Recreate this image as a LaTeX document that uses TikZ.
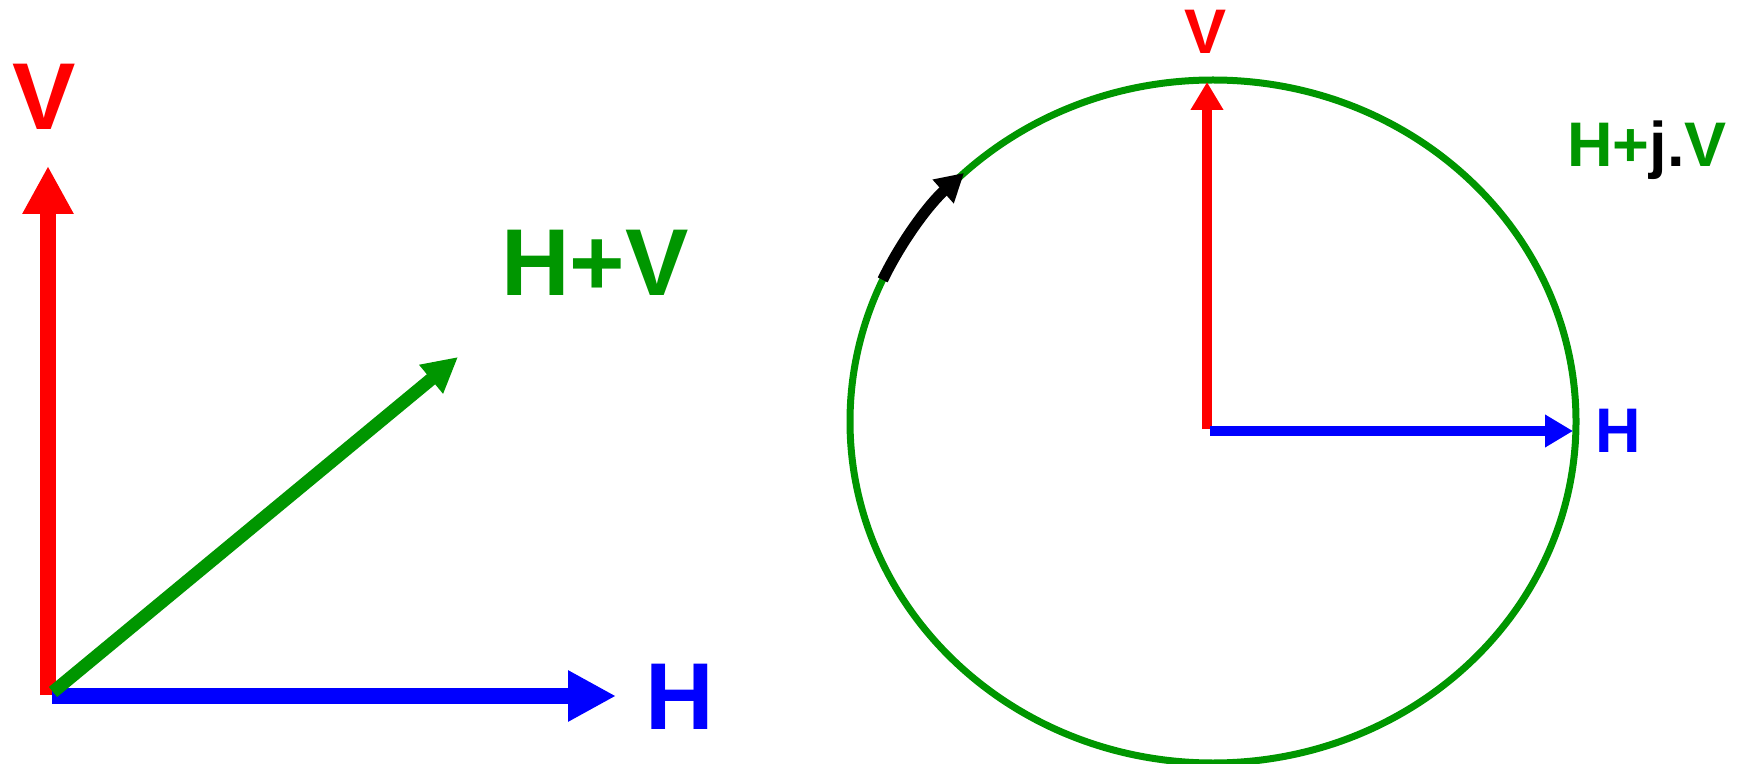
\documentclass[tikz,border=0pt]{standalone}
\usepackage{fontspec}
\setmainfont{Liberation Sans}
\usetikzlibrary{arrows.meta}
\definecolor{hvgreen}{RGB}{0,150,0}

\begin{document}
\begin{tikzpicture}[x=0.5pt, y=-0.5pt,
    biglabel/.style={font=\fontsize{47.5}{50}\selectfont\bfseries, inner sep=0pt, anchor=base},
    smalllabel/.style={font=\fontsize{31.5}{36}\selectfont\bfseries, inner sep=0pt, anchor=base},
    bigarrow/.style={line width=8pt, -{Triangle[length=24pt, width=24pt]}},
    smallarrow/.style={line width=5.25pt, -{Triangle[length=14pt, width=15.5pt]}}]
      \useasboundingbox (0,0) rectangle (1739,764);

      % left: linear sum
      \coordinate (o1) at (48,695);
      \coordinate (v1) at (48,166);
      \coordinate (h1) at (616,696);
      \coordinate (s1) at (458,357);
      \node[biglabel, red] (lv1) at (44,130) {V};
      \node[biglabel, blue] (lh1) at (680,729) {H};
      \node[biglabel, hvgreen] (lhv) at (595,296) {H+V};

      \draw[bigarrow, red] (o1) -- (v1);
      \draw[bigarrow, blue] ([shift={(4,1)}]o1) -- (h1);
      \draw[line width=6.5pt, hvgreen, -{Triangle[length=17.5pt, width=17.5pt]}] ([shift={(5,-3)}]o1) -- (s1);

      % right: circular sum
      \coordinate (o2) at (1213,421.5);
      \coordinate (c2) at (1207,429);
      \coordinate (v2) at (1207,82);
      \coordinate (h2) at (1573,431);
      \node[smalllabel, red] (lv2) at (1205,54) {V};
      \node[smalllabel, blue] (lh2) at (1618,452) {H};
      \node[smalllabel, hvgreen] (lhjv) at (1647,167) {H+{\color{black}j.}V};

      \draw[hvgreen, line width=3.5pt] (o2) ellipse [x radius=181.5pt, y radius=170.75pt];
      \draw[black, line width=5.5pt, -{Triangle[length=14pt, width=15pt]}]
        (o2) ++(155.5:181.5pt and 170.75pt) arc [start angle=155.5, end angle=133.3, x radius=181.5pt, y radius=170.75pt];
      \draw[smallarrow, red] (c2) -- (v2);
      \draw[smallarrow, blue] ([shift={(3,2)}]c2) -- (h2);
\end{tikzpicture}
\end{document}
